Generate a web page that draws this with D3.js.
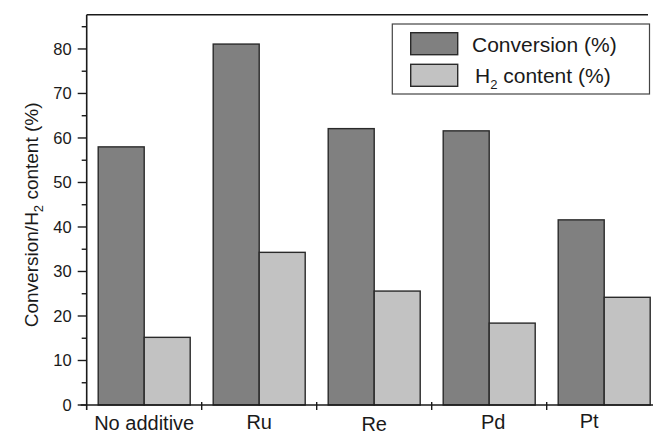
<!DOCTYPE html>
<html>
<head>
<meta charset="utf-8">
<script src="https://cdn.jsdelivr.net/npm/d3@7"></script>
<style>
  html, body { margin: 0; padding: 0; background: #fff; }
  svg { display: block; font-family: "Liberation Sans", Arial, Helvetica, sans-serif; }
</style>
</head>
<body>
<svg id="chart" width="653" height="435"></svg>
<script>
// Catalytic additives and the measured results for each
const categories = ["No additive", "Ru", "Re", "Pd", "Pt"];
const conversion = [58.0, 81.1, 62.1, 61.6, 41.6];
const h2Content = [15.2, 34.3, 25.6, 18.4, 24.2];
const seriesNames = ["Conversion (%)", "H2 content (%)"];
const yTicks = [0, 10, 20, 30, 40, 50, 60, 70, 80];

const svg = d3.select("#chart");
const W = 653, H = 435;

const axisX = 86.7, axisY = 405, topY = 14.7;
const bandW = 115;

const x = d3.scaleBand()
  .domain(categories)
  .range([axisX, axisX + bandW * categories.length])
  .padding(0);

const x1 = d3.scaleBand()
  .domain(["conversion", "h2"])
  .range([11.5, bandW - 11.5])
  .padding(0);

const y = d3.scaleLinear()
  .domain([0, 87.7])
  .range([axisY, topY]);

const colors = { conversion: "#808080", h2: "#c2c2c2" };
const ink = "#1a1a1a";

const rows = categories.map((c, i) => ({
  cat: c,
  values: [
    { key: "conversion", v: conversion[i] },
    { key: "h2", v: h2Content[i] }
  ]
}));

// Bars
const groups = svg.append("g").selectAll("g")
  .data(rows).join("g")
  .attr("transform", d => `translate(${x(d.cat)},0)`);

groups.selectAll("rect")
  .data(d => d.values).join("rect")
  .attr("x", d => x1(d.key))
  .attr("y", d => y(d.v))
  .attr("width", x1.bandwidth())
  .attr("height", d => y(0) - y(d.v))
  .attr("fill", d => colors[d.key])
  .attr("stroke", "#2a2a2a")
  .attr("stroke-width", 1.4);

// Left axis: major ticks with labels every 10, minor ticks at the 5s
const yAxis = svg.append("g").attr("transform", `translate(${axisX},0)`);
yAxis.append("line")
  .attr("x1", 0).attr("x2", 0)
  .attr("y1", topY).attr("y2", axisY + 5)
  .attr("stroke", ink).attr("stroke-width", 1.6);

yAxis.selectAll("line.major")
  .data(yTicks).join("line").attr("class", "major")
  .attr("x1", -9).attr("x2", 0)
  .attr("y1", d => y(d)).attr("y2", d => y(d))
  .attr("stroke", ink).attr("stroke-width", 1.4);

const minorTicks = d3.range(5, 87.7, 10);
yAxis.selectAll("line.minor")
  .data(minorTicks).join("line").attr("class", "minor")
  .attr("x1", -5).attr("x2", 0)
  .attr("y1", d => y(d)).attr("y2", d => y(d))
  .attr("stroke", ink).attr("stroke-width", 1.4);

yAxis.selectAll("text")
  .data(yTicks).join("text")
  .attr("x", -15)
  .attr("y", d => y(d))
  .attr("dy", "0.36em")
  .attr("text-anchor", "end")
  .attr("font-size", 16.5)
  .attr("fill", ink)
  .text(d => d);

// Top frame line
svg.append("line")
  .attr("x1", axisX).attr("x2", 648)
  .attr("y1", topY).attr("y2", topY)
  .attr("stroke", ink).attr("stroke-width", 1.6);

// Bottom axis with ticks on the category boundaries
const xAxis = svg.append("g");
xAxis.append("line")
  .attr("x1", axisX - 6).attr("x2", W)
  .attr("y1", axisY).attr("y2", axisY)
  .attr("stroke", ink).attr("stroke-width", 1.6);

xAxis.selectAll("line.tick")
  .data(categories.slice(1)).join("line").attr("class", "tick")
  .attr("x1", d => x(d)).attr("x2", d => x(d))
  .attr("y1", axisY - 3).attr("y2", axisY + 5)
  .attr("stroke", ink).attr("stroke-width", 1.4);

// Category labels, each nudged slightly as set in the original layout
const labelNudge = { "No additive": [0, 430], "Ru": [0, 428.5], "Re": [0, 431], "Pd": [4, 428.5], "Pt": [-15, 427.5] };
xAxis.selectAll("text")
  .data(categories).join("text")
  .attr("x", d => x(d) + x.bandwidth() / 2 + labelNudge[d][0])
  .attr("y", d => labelNudge[d][1])
  .attr("text-anchor", "middle")
  .attr("font-size", 20)
  .attr("fill", ink)
  .text(d => d);

// Y axis title with subscript 2
const yTitle = svg.append("text")
  .attr("transform", `translate(38,${(topY + axisY) / 2 + 5}) rotate(-90)`)
  .attr("text-anchor", "middle")
  .attr("font-size", 19)
  .attr("fill", ink);
yTitle.append("tspan").text("Conversion/H");
yTitle.append("tspan").attr("font-size", 13).attr("dy", 5).text("2");
yTitle.append("tspan").attr("dy", -5).text(" content (%)");

// Legend
const legend = svg.append("g");
legend.append("rect")
  .attr("x", 392.3).attr("y", 24)
  .attr("width", 649.5 - 392.3).attr("height", 70)
  .attr("fill", "#fff")
  .attr("stroke", "#444").attr("stroke-width", 1.2);

const legKeys = ["conversion", "h2"];
legKeys.forEach((k, i) => {
  const ly = 32.7 + i * 31.6;
  legend.append("rect")
    .attr("x", 410.7).attr("y", ly)
    .attr("width", 47).attr("height", 22)
    .attr("fill", colors[k])
    .attr("stroke", "#2a2a2a").attr("stroke-width", 1.4);
});

legend.append("text")
  .attr("x", 472).attr("y", 51.5)
  .attr("font-size", 21).attr("fill", ink)
  .text(seriesNames[0]);

const h2Label = legend.append("text")
  .attr("x", 475).attr("y", 83)
  .attr("font-size", 21).attr("fill", ink);
h2Label.append("tspan").text("H");
h2Label.append("tspan").attr("font-size", 13).attr("dy", 6).text("2");
h2Label.append("tspan").attr("dy", -6).text(" content (%)");
</script>
</body>
</html>
